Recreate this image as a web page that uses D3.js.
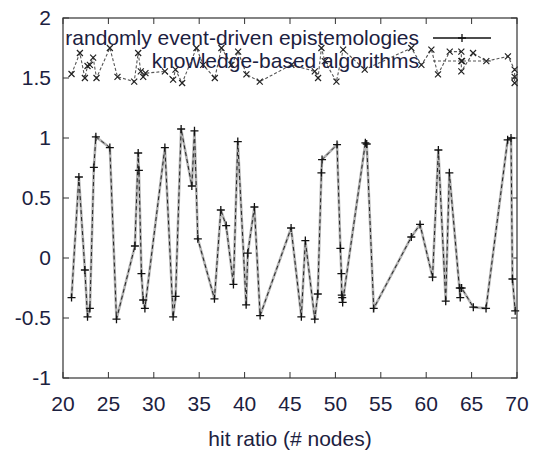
<!DOCTYPE html>
<html>
<head>
<meta charset="utf-8">
<script src="https://cdn.jsdelivr.net/npm/d3@7"></script>
<style>
  body { margin: 0; background: #fff; }
  text { font-family: "Liberation Sans", Arial, sans-serif; fill: #1c2140; }
</style>
</head>
<body>
<div id="chart"></div>
<script>
// data
const seriesNames = ["randomly event-driven epistemologies", "knowledge-based algorithms"];

const xA = [20.94, 21.75, 22.41, 22.70, 22.96, 23.40, 23.62, 25.16, 25.89, 27.92,
            28.28, 28.36, 28.64, 28.83, 29.02, 31.22, 32.13, 32.40, 33.01, 34.19,
            34.48, 34.85, 36.68, 37.38, 37.97, 38.77, 39.25, 40.17, 40.35, 41.08,
            41.71, 45.12, 46.25, 46.69, 47.73, 48.06, 48.46, 48.53, 50.18, 50.55,
            50.66, 50.70, 50.75, 50.80, 53.30, 53.45, 54.22, 58.36, 59.32, 60.70,
            61.34, 62.15, 62.55, 63.75, 63.70, 63.90, 65.19, 66.59, 68.97, 69.34,
            69.50, 69.80];
const yA = [-0.33, 0.675, -0.10, -0.49, -0.42, 0.755, 1.01, 0.92, -0.51, 0.10,
            0.875, 0.73, -0.13, -0.35, -0.42, 0.92, -0.49, -0.32, 1.075, 0.60,
            1.06, 0.16, -0.34, 0.40, 0.27, -0.22, 0.97, -0.39, 0.04, 0.425,
            -0.48, 0.25, -0.49, 0.145, -0.51, -0.30, 0.71, 0.82, 0.945, 0.08,
            -0.13, -0.31, -0.33, -0.37, 0.96, 0.95, -0.42, 0.175, 0.28, -0.16,
            0.90, -0.36, 0.71, -0.33, -0.25, -0.25, -0.41, -0.42, 0.985, 1.00,
            -0.175, -0.44];

const xB = [20.94, 21.86, 22.41, 22.70, 22.96, 23.32, 23.69, 25.16, 26.00, 27.84,
            28.28, 28.57, 28.83, 29.08, 31.22, 32.13, 32.39, 33.12, 34.70, 35.43,
            36.72, 37.45, 38.55, 39.29, 40.20, 41.67, 45.15, 47.73, 48.09, 48.46,
            48.83, 50.11, 50.85, 53.23, 58.36, 59.47, 60.57, 61.30, 62.59, 63.87,
            63.87, 63.87, 65.16, 66.62, 69.00, 69.74, 69.74, 69.74];
const yB = [1.533, 1.708, 1.50, 1.60, 1.61, 1.67, 1.50, 1.75, 1.51, 1.47,
            1.708, 1.555, 1.51, 1.54, 1.555, 1.486, 1.57, 1.458, 1.75, 1.61,
            1.50, 1.75, 1.61, 1.72, 1.53, 1.47, 1.61, 1.555, 1.50, 1.75,
            1.64, 1.47, 1.736, 1.57, 1.75, 1.61, 1.736, 1.53, 1.72, 1.72,
            1.64, 1.555, 1.708, 1.64, 1.68, 1.57, 1.51, 1.458];

const xTicks = [20, 25, 30, 35, 40, 45, 50, 55, 60, 65, 70];
const yTicks = [-1, -0.5, 0, 0.5, 1, 1.5, 2];
const xLabel = "hit ratio (# nodes)";

const width = 538, height = 454;
const margin = {left: 63, right: 21, top: 18, bottom: 76};

const svg = d3.select("#chart").append("svg")
  .attr("width", width).attr("height", height);

const x = d3.scaleLinear().domain([20, 70]).range([margin.left, width - margin.right]);
const y = d3.scaleLinear().domain([-1, 2]).range([height - margin.bottom, margin.top]);

const dataA = xA.map((v, i) => [v, yA[i]]);
const dataB = xB.map((v, i) => [v, yB[i]]);

const line = d3.line().x(d => x(d[0])).y(d => y(d[1]));

// ticks (inward, mirrored)
const tl = 6;
const tg = svg.append("g").attr("stroke", "#333").attr("stroke-width", 1);
xTicks.forEach(t => {
  tg.append("line").attr("x1", x(t)).attr("x2", x(t)).attr("y1", y(-1)).attr("y2", y(-1) - tl);
  tg.append("line").attr("x1", x(t)).attr("x2", x(t)).attr("y1", y(2)).attr("y2", y(2) + tl);
});
yTicks.forEach(t => {
  tg.append("line").attr("x1", x(20)).attr("x2", x(20) + tl).attr("y1", y(t)).attr("y2", y(t));
  tg.append("line").attr("x1", x(70)).attr("x2", x(70) - tl).attr("y1", y(t)).attr("y2", y(t));
});

// series A: solid line with + markers
svg.append("path").datum(dataA).attr("d", line)
  .attr("fill", "none").attr("stroke", "#b4b4b4").attr("stroke-width", 2.6);
svg.append("path").datum(dataA).attr("d", line)
  .attr("fill", "none").attr("stroke", "#222").attr("stroke-width", 1)
  .attr("stroke-dasharray", "4,3");
const plus = d3.symbol().type(d3.symbolCross);
svg.append("g").selectAll("path").data(dataA).join("path")
  .attr("d", d => `M${x(d[0]) - 4},${y(d[1])}h8M${x(d[0])},${y(d[1]) - 4}v8`)
  .attr("stroke", "#111").attr("stroke-width", 1.3).attr("fill", "none");

// series B: dashed line with x markers
svg.append("path").datum(dataB).attr("d", line)
  .attr("fill", "none").attr("stroke", "#555").attr("stroke-width", 1.1)
  .attr("stroke-dasharray", "3,2");
svg.append("g").selectAll("path").data(dataB).join("path")
  .attr("d", d => `M${x(d[0]) - 3},${y(d[1]) - 3}l6,6M${x(d[0]) - 3},${y(d[1]) + 3}l6,-6`)
  .attr("stroke", "#222").attr("stroke-width", 1.2).attr("fill", "none");

// frame
svg.append("rect")
  .attr("x", x(20)).attr("y", y(2))
  .attr("width", x(70) - x(20)).attr("height", y(-1) - y(2))
  .attr("fill", "none").attr("stroke", "#333").attr("stroke-width", 1.2);

// tick labels
svg.append("g").selectAll("text").data(xTicks).join("text")
  .attr("x", d => x(d)).attr("y", y(-1) + 33)
  .attr("text-anchor", "middle").attr("font-size", 21)
  .text(d => d);
svg.append("g").selectAll("text").data(yTicks).join("text")
  .attr("x", x(20) - 12).attr("y", d => y(d) + 7)
  .attr("text-anchor", "end").attr("font-size", 21)
  .text(d => d);

svg.append("text")
  .attr("x", (x(20) + x(70)) / 2).attr("y", y(-1) + 68)
  .attr("text-anchor", "middle").attr("font-size", 21)
  .text(xLabel);

// legend
const legX = 419, legY = [38, 61];
seriesNames.forEach((name, i) => {
  svg.append("text").attr("x", legX).attr("y", legY[i] + 7)
    .attr("text-anchor", "end").attr("font-size", 21).text(name);
});
svg.append("line").attr("x1", 433).attr("x2", 491).attr("y1", legY[0]).attr("y2", legY[0])
  .attr("stroke", "#111").attr("stroke-width", 1.3);
svg.append("path").attr("d", `M458,${legY[0]}h8M462,${legY[0] - 4}v8`)
  .attr("stroke", "#111").attr("stroke-width", 1.3);
svg.append("line").attr("x1", 433).attr("x2", 491).attr("y1", legY[1]).attr("y2", legY[1])
  .attr("stroke", "#555").attr("stroke-width", 1.1).attr("stroke-dasharray", "3,2");
svg.append("path").attr("d", `M459,${legY[1] - 3}l6,6M459,${legY[1] + 3}l6,-6`)
  .attr("stroke", "#222").attr("stroke-width", 1.2);
</script>
</body>
</html>
